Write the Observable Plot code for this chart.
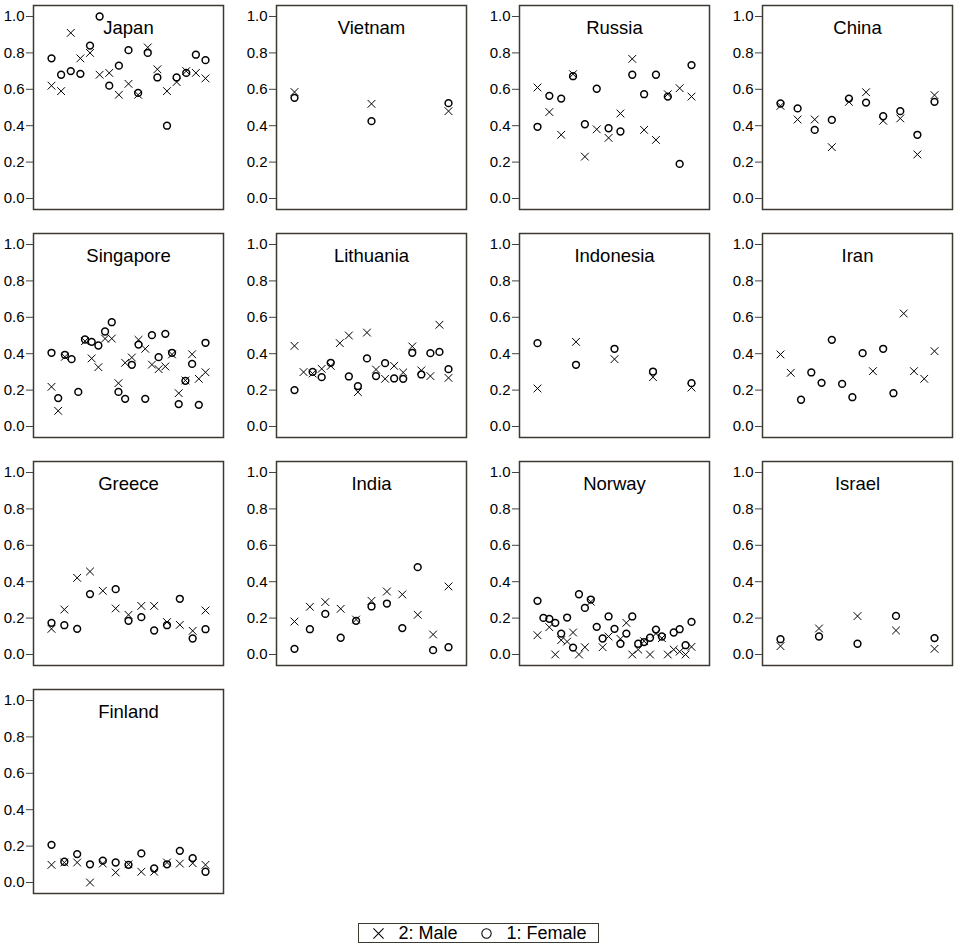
<!DOCTYPE html>
<html>
<head>
<meta charset="utf-8">
<script src="https://cdn.jsdelivr.net/npm/d3@7"></script>
<script src="https://cdn.jsdelivr.net/npm/@observablehq/plot@0.6"></script>
<style>
  body { margin: 0; background: #fff; font-family: "Liberation Sans", Arial, sans-serif; }
  #grid { display: grid; grid-template-columns: 243px 243px 243px 228px; grid-auto-rows: 228px; }
  #grid svg { display: block; }
  #legendWrap { display: flex; justify-content: center; margin-top: 11px; }
  #legendBox { border: 1.5px solid #3c3a30; height: 20px; display: flex; align-items: center; padding: 0 11px 0 12px; box-sizing: border-box; }
  .lg-swatches { min-height: 0 !important; margin: 0 !important; flex-wrap: nowrap !important; }
  .lg-swatch { margin-right: 22px !important; }
  .lg-swatch:last-child { margin-right: 0 !important; }
  .lg-swatch > svg { margin-right: 12px !important; }
</style>
</head>
<body>
<div id="grid"></div>
<div id="legendWrap"><div id="legendBox"></div></div>
<script>
const countries = ["Japan", "Vietnam", "Russia", "China", "Singapore", "Lithuania", "Indonesia", "Iran", "Greece", "India", "Norway", "Israel", "Finland"];

const maleValues = [
  [0.62, 0.59, 0.91, 0.77, 0.80, 0.68, 0.69, 0.57, 0.63, 0.57, 0.83, 0.71, 0.59, 0.64, 0.70, 0.69, 0.66],
  [0.585, 0.52, 0.48],
  [0.61, 0.475, 0.35, 0.683, 0.23, 0.38, 0.333, 0.467, 0.767, 0.377, 0.322, 0.573, 0.606, 0.56],
  [0.509, 0.434, 0.434, 0.282, 0.531, 0.584, 0.427, 0.44, 0.242, 0.568],
  [0.218, 0.086, 0.383, null, null, 0.469, 0.374, 0.326, 0.483, 0.483, 0.238, 0.35, 0.379, 0.476, 0.427, 0.34, 0.315, 0.33, 0.396, 0.183, 0.253, 0.397, 0.262, 0.298],
  [0.443, 0.299, 0.291, 0.317, 0.333, 0.458, 0.50, 0.189, 0.516, 0.313, 0.262, 0.333, 0.297, 0.44, 0.308, 0.277, 0.559, 0.267],
  [0.209, 0.465, 0.37, 0.271, 0.214],
  [0.396, 0.295, null, null, null, null, null, null, null, 0.304, null, null, 0.621, 0.304, 0.262, 0.414],
  [0.141, 0.247, 0.421, 0.456, 0.35, 0.253, 0.218, 0.267, 0.267, 0.178, 0.163, 0.13, 0.242],
  [0.181, 0.262, 0.288, 0.251, 0.192, 0.295, 0.346, 0.33, 0.218, 0.11, 0.374],
  [0.106, null, 0.15, 0.0, 0.079, 0.071, 0.121, 0.0, 0.04, 0.29, null, 0.04, 0.099, null, 0.086, 0.174, 0.0, 0.027, 0.073, 0.0, 0.115, 0.09, 0.0, 0.027, 0.016, 0.0, 0.042],
  [0.046, 0.143, 0.211, 0.132, 0.031],
  [0.097, 0.11, 0.11, 0.0, 0.104, 0.055, 0.10, 0.059, 0.059, 0.11, 0.104, 0.106, 0.097]
];

const femaleValues = [
  [0.77, 0.68, 0.70, 0.685, 0.84, 1.00, 0.62, 0.73, 0.815, 0.58, 0.80, 0.665, 0.40, 0.665, 0.69, 0.79, 0.76],
  [0.553, 0.425, 0.524],
  [0.394, 0.564, 0.549, 0.672, 0.408, 0.603, 0.386, 0.368, 0.68, 0.573, 0.68, 0.56, 0.19, 0.733],
  [0.522, 0.495, 0.377, 0.432, 0.549, 0.527, 0.452, 0.48, 0.35, 0.531],
  [0.405, 0.156, 0.394, 0.37, 0.19, 0.478, 0.465, 0.445, 0.522, 0.573, 0.19, 0.152, 0.339, 0.45, 0.152, 0.502, 0.381, 0.509, 0.405, 0.123, 0.251, 0.344, 0.119, 0.46],
  [0.20, null, 0.30, 0.271, 0.35, null, 0.275, 0.222, 0.374, 0.277, 0.348, 0.264, 0.262, 0.405, 0.286, 0.403, 0.41, 0.315],
  [0.458, 0.339, 0.427, 0.302, 0.238],
  [null, null, 0.147, 0.297, 0.24, 0.476, 0.234, 0.161, 0.403, null, 0.427, 0.183, null, null, null, null],
  [0.174, 0.161, 0.141, 0.332, null, 0.359, 0.185, 0.205, 0.132, 0.161, 0.306, 0.088, 0.139],
  [0.031, 0.139, 0.223, 0.092, 0.185, 0.264, 0.28, 0.145, 0.48, 0.024, 0.04],
  [0.295, 0.201, 0.196, 0.174, 0.115, 0.203, 0.038, 0.331, 0.256, 0.302, 0.152, 0.088, 0.209, 0.141, 0.059, 0.115, 0.209, 0.059, 0.068, 0.092, 0.137, 0.099, null, 0.121, 0.139, 0.051, 0.179],
  [0.084, 0.099, 0.059, 0.212, 0.09],
  [0.207, 0.114, 0.156, 0.10, 0.12, 0.11, 0.097, 0.16, 0.077, 0.10, 0.174, 0.134, 0.059]
];

const yTicks = [0.0, 0.2, 0.4, 0.6, 0.8, 1.0];
const legendLabels = ["2: Male", "1: Female"];
const legendSymbols = ["times", "circle"];

const FONT = '"Liberation Sans", Arial, sans-serif';
const grid = document.getElementById("grid");

countries.forEach((country, k) => {
  const col = k % 4;
  const n = maleValues[k].length;
  const male = maleValues[k].map((v, i) => ({i: i + 1, v})).filter(d => d.v != null);
  const female = femaleValues[k].map((v, i) => ({i: i + 1, v})).filter(d => d.v != null);
  const w = col === 3 ? 228 : 243;
  const chart = Plot.plot({
    width: w,
    height: 228,
    marginTop: 5,
    marginBottom: 19,
    marginLeft: 33,
    marginRight: w - 33 - 190,
    insetTop: 11,
    insetBottom: 11,
    insetLeft: 18,
    insetRight: 18,
    style: {fontFamily: FONT, fontSize: "15px", background: "white", color: "black", overflow: "visible"},
    x: {domain: [1, n], axis: null},
    y: {domain: [0, 1]},
    marks: [
      Plot.axisY({ticks: yTicks, tickFormat: d3.format(".1f"), tickSize: 7, tickPadding: 2, stroke: "#444", fill: "black", fontSize: 15, label: null}),
      Plot.frame({stroke: "#3c3a30", strokeWidth: 1.5}),
      Plot.text([country], {text: d => d, frameAnchor: "top", lineAnchor: "middle", dy: 23, fontSize: 18.5, fill: "black"}),
      Plot.dot(female, {x: "i", y: "v", symbol: "circle", r: 3.4, stroke: "black", strokeWidth: 1.5, fill: "none"}),
      Plot.dot(male, {x: "i", y: "v", symbol: "times", r: 3.6, stroke: "black", strokeWidth: 1})
    ]
  });
  grid.appendChild(chart);
});

const legend = Plot.legend({
  symbol: {domain: legendLabels, range: legendSymbols},
  className: "lg",
  stroke: "black",
  fill: "none",
  r: 5,
  strokeWidth: 1.1,
  style: {fontFamily: FONT, fontSize: "18px", color: "black"}
});
document.getElementById("legendBox").appendChild(legend);
</script>
</body>
</html>
